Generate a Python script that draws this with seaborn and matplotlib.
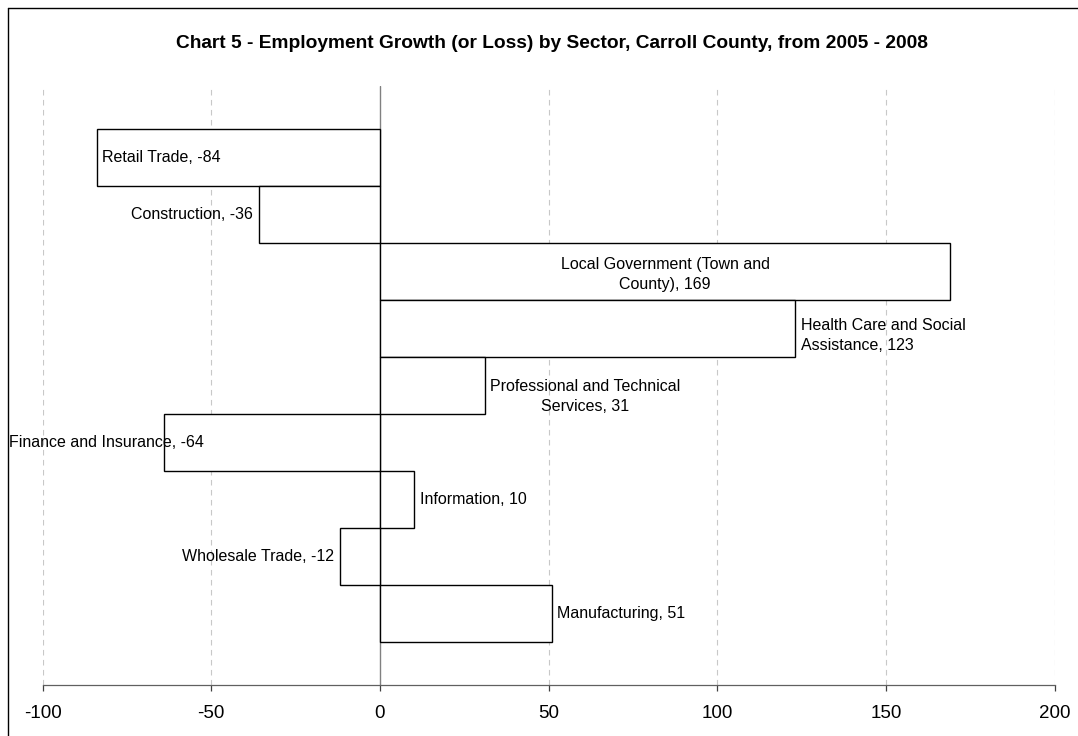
import numpy as np
import pandas as pd
import matplotlib
matplotlib.use('Agg')
import matplotlib.pyplot as plt
from matplotlib.lines import Line2D
import seaborn as sns

sns.set_style('white')
plt.rcParams['font.family'] = ['Liberation Sans', 'DejaVu Sans']
plt.rcParams['text.color'] = 'black'
plt.rcParams['xtick.color'] = 'black'

# data
sectors = ['Retail Trade', 'Construction', 'Local Government (Town and County)',
           'Health Care and Social Assistance', 'Professional and Technical Services',
           'Finance and Insurance', 'Information', 'Wholesale Trade', 'Manufacturing']
change = [-84, -36, 169, 123, 31, -64, 10, -12, 51]
label_text = ['Retail Trade, -84', 'Construction, -36',
              'Local Government (Town and\nCounty), 169',
              'Health Care and Social\nAssistance, 123',
              'Professional and Technical\nServices, 31',
              'Finance and Insurance, -64', 'Information, 10',
              'Wholesale Trade, -12', 'Manufacturing, 51']
x_ticks = [-100, -50, 0, 50, 100, 150, 200]

df = pd.DataFrame({'sector': sectors, 'change': change})

fig = plt.figure(figsize=(10.78, 7.36), dpi=100)
ax = fig.add_axes([0.0395, 0.0689, 0.939, 0.8143])

sns.barplot(data=df, x='change', y='sector', orient='h', color='white',
            saturation=1, edgecolor='black', linewidth=1.0, width=1.0,
            errorbar=None, ax=ax, zorder=3)

ax.set_xlim(-100, 200)
ax.set_ylim(9.26, -1.254)
ax.set_xticks(x_ticks)
ax.set_xticklabels([str(t) for t in x_ticks], fontsize=13.5)
ax.set_yticks([])
ax.set_xlabel('')
ax.set_ylabel('')

# dashed grid + zero axis line
for t in x_ticks:
    if t == 0:
        continue
    ax.axvline(t, color='#c8c8c8', linestyle=(0, (5, 4)), linewidth=0.8, zorder=1)
ax.axvline(0, color='#808080', linewidth=1.0, zorder=2)

for side in ['top', 'right', 'left']:
    ax.spines[side].set_visible(False)
ax.spines['bottom'].set_color('#606060')
ax.spines['bottom'].set_linewidth(0.9)
ax.tick_params(axis='x', direction='out', length=4, width=0.9, color='#404040',
               pad=10, bottom=True)

# label placement: (ha, x offset px, y offset px, anchor)
place = [
    ('left', 5, 0, 'end'),
    ('right', -6, 0, 'end'),
    ('center', 0, -3, 'mid'),
    ('left', 6, -7, 'end'),
    ('left', 5, -11, 'end'),
    ('right', 40, 0, 'end'),
    ('left', 6, 0, 'end'),
    ('right', -6, 0, 'end'),
    ('left', 5, 0, 'end'),
]
for i, (txt, v, (ha, dx, dy, anchor)) in enumerate(zip(label_text, change, place)):
    xv = v / 2 if anchor == 'mid' else v
    ax.annotate(txt, xy=(xv, i), xytext=(dx, dy), textcoords='offset pixels',
                ha=ha, va='center', multialignment='center' if ha != 'left' or i == 4 else 'left',
                fontsize=11.5, linespacing=1.45, zorder=5)

fig.text(0.5125, 0.941, 'Chart 5 - Employment Growth (or Loss) by Sector, Carroll County, from 2005 - 2008',
         ha='center', va='center', fontsize=13.8, fontweight='bold')

# chart border (left and top visible)
fig.add_artist(Line2D([0.007, 0.007], [0, 0.9898], color='black', linewidth=1.0,
                      transform=fig.transFigure))
fig.add_artist(Line2D([0.007, 1], [0.9898, 0.9898], color='black', linewidth=1.0,
                      transform=fig.transFigure))

fig.savefig('out.png', dpi=100)
